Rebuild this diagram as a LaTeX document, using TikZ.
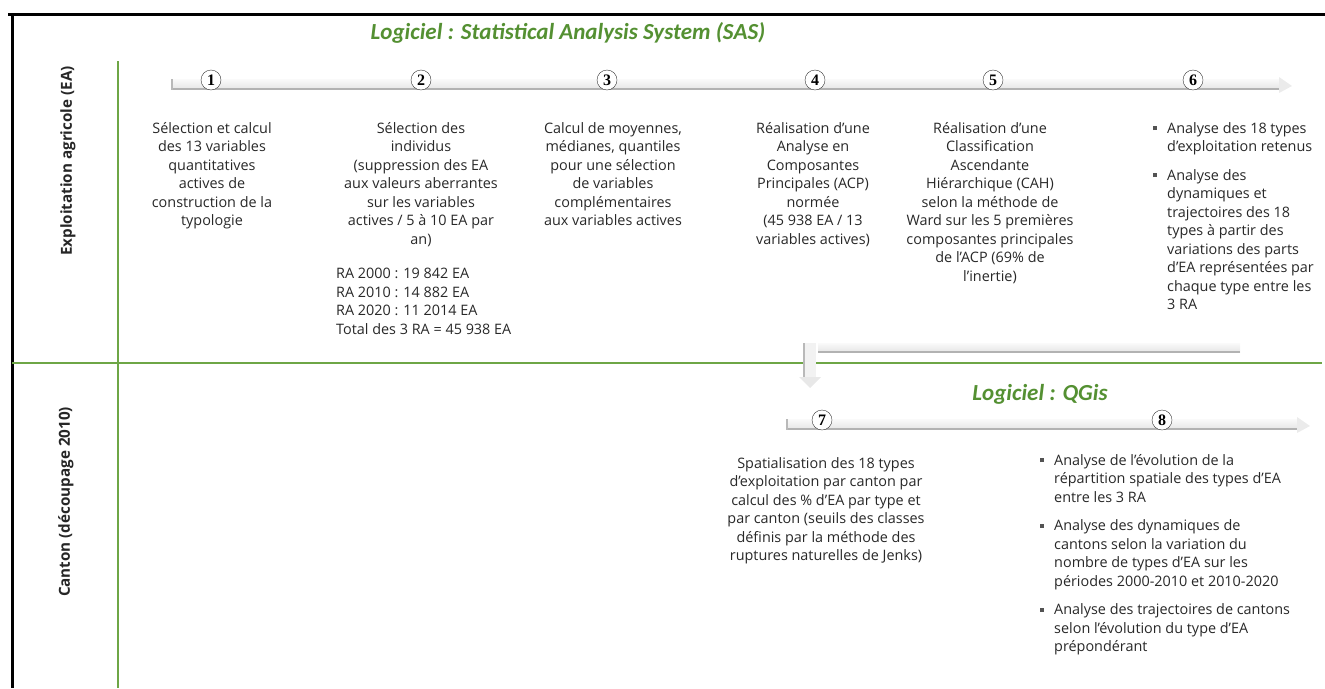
\documentclass[tikz,border=0pt]{standalone}
\usepackage{fontspec}
\setmainfont{Open Sans}
\newfontfamily\titre{Carlito}
\newfontfamily\chiffre{Liberation Serif}
\usetikzlibrary{positioning,calc}
\definecolor{vertlog}{RGB}{84,144,50}
\definecolor{vertligne}{RGB}{110,166,70}
\definecolor{texte}{RGB}{40,40,40}
\tikzset{
  etape/.style={anchor=north, align=center, inner sep=0pt, text=texte,
    font=\fontsize{14.4}{18.5}\selectfont},
  liste/.style={anchor=north west, align=left, inner sep=0pt, text=texte,
    font=\fontsize{14.4}{18.5}\selectfont},
  logiciel/.style={inner sep=0pt, text=vertlog,
    font=\fontsize{23}{25}\selectfont\titre\bfseries\itshape},
  rubrique/.style={rotate=90, inner sep=0pt, text=black!85,
    font=\fontsize{15.2}{17}\selectfont\bfseries},
  numero/.style={circle, draw=black!80, fill=white, inner sep=0pt,
    minimum size=20pt, font=\fontsize{16}{16}\selectfont\chiffre\bfseries},
  barre/.style={top color=gray!4, bottom color=gray!20},
  ombre/.style={draw=gray!60, line width=2.5pt}
}
\newcommand\puce{\makebox[14pt][l]{\color{texte!80}\rule[3pt]{4pt}{4pt}}}
\newcommand\retrait{\hspace*{14pt}}
% fleche grise horizontale (debut, fin)
\newcommand\fleche[2]{
  \fill[barre] ([yshift=7]#1) rectangle ([xshift=-11,yshift=-3]#2);
  \draw[ombre] ([yshift=-3]#1) -- ([xshift=-11,yshift=-3]#2);
  \draw[gray!55, line width=2pt] ([yshift=7]#1) -- ([yshift=-4]#1);
  \fill[gray!16] ([xshift=-13,yshift=9]#2) -- (#2) -- ([xshift=-13,yshift=-7]#2) -- cycle;
}

\begin{document}
\begin{tikzpicture}[x=1pt,y=-1pt]
\useasboundingbox (0,0) rectangle (1325,688);

% cadre et separations
\draw[black, line width=3pt] (8,14) -- (1325,14);
\draw[black, line width=3pt] (12,14) -- (12,688);
\draw[vertligne, line width=1.3pt] (118,61) -- (118,688);
\draw[vertligne, line width=1.3pt] (12,363) -- (1322,363);

\node[rubrique] (ea) at (68,161) {Exploitation agricole (EA)};
\node[rubrique] (canton) at (66,502) {Canton (découpage 2010)};

% SAS
\node[logiciel] (sas) at (568,33) {Logiciel : Statistical Analysis System (SAS)};

\coordinate (a1) at (172,86);
\coordinate (a2) at (1292,86);
\fleche{a1}{a2}

\foreach \n/\x in {1/211,2/421,3/607,4/815,5/993,6/1193}
  \node[numero] (n\n) at (\x,80) {\n};

\node[etape] (t1) at (212,122) {Sélection et calcul\\des 13 variables\\quantitatives\\actives de\\construction de la\\typologie};
\node[etape] (t2) at (421,122) {Sélection des\\individus\\(suppression des EA\\aux valeurs aberrantes\\sur les variables\\actives / 5 à 10 EA par\\an)};
\node[liste] (ra) at (336,268) {RA 2000 : 19 842 EA\\RA 2010 : 14 882 EA\\RA 2020 : 11 2014 EA\\Total des 3 RA = 45 938 EA};
\node[etape] (t3) at (613,122) {Calcul de moyennes,\\médianes, quantiles\\pour une sélection\\de variables\\complémentaires\\aux variables actives};
\node[etape] (t4) at (813,122) {Réalisation d’une\\Analyse en\\Composantes\\Principales (ACP)\\normée\\(45 938 EA / 13\\variables actives)};
\node[etape] (t5) at (990,122) {Réalisation d’une\\Classification\\Ascendante\\Hiérarchique (CAH)\\selon la méthode de\\Ward sur les 5 premières\\composantes principales\\de l’ACP (69\% de\\l’inertie)};
\node[liste] (t6) at (1153,122) {\puce Analyse des 18 types\\\retrait d’exploitation retenus\\[10pt]
  \puce Analyse des\\\retrait dynamiques et\\\retrait trajectoires des 18\\\retrait types à partir des\\\retrait variations des parts\\\retrait d’EA représentées par\\\retrait chaque type entre les\\\retrait 3 RA};

% passage vers QGis
\coordinate (r1) at (1240,349);
\coordinate (r2) at (810,349);
\coordinate (r3) at (810,388);
\fill[barre] ([yshift=6]r1) rectangle ([xshift=8,yshift=-3]r2);
\draw[ombre] ([yshift=-3]r1) -- ([xshift=8,yshift=-3]r2);
\fill[gray!10] ([xshift=-6,yshift=6]r2) rectangle ([xshift=6,yshift=10]r3);
\draw[gray!55, line width=2pt] ([xshift=-6,yshift=6]r2) -- ([xshift=-6,yshift=10]r3);
\fill[gray!18] ([xshift=-11,yshift=11]r3) -- (r3) -- ([xshift=11,yshift=11]r3) -- cycle;

% QGis
\node[logiciel] (qgis) at (1040,394) {Logiciel : QGis};

\coordinate (b1) at (787,426);
\coordinate (b2) at (1310,426);
\fleche{b1}{b2}

\foreach \n/\x in {7/822,8/1162}
  \node[numero] (n\n) at (\x,420) {\n};

\node[etape] (t7) at (826,457) {Spatialisation des 18 types\\d’exploitation par canton par\\calcul des \% d’EA par type et\\par canton (seuils des classes\\définis par la méthode des\\ruptures naturelles de Jenks)};
\node[liste] (t8) at (1040,454) {\puce Analyse de l’évolution de la\\\retrait répartition spatiale des types d’EA\\\retrait entre les 3 RA\\[10pt]
  \puce Analyse des dynamiques de\\\retrait cantons selon la variation du\\\retrait nombre de types d’EA sur les\\\retrait périodes 2000-2010 et 2010-2020\\[10pt]
  \puce Analyse des trajectoires de cantons\\\retrait selon l’évolution du type d’EA\\\retrait prépondérant};
\end{tikzpicture}
\end{document}
